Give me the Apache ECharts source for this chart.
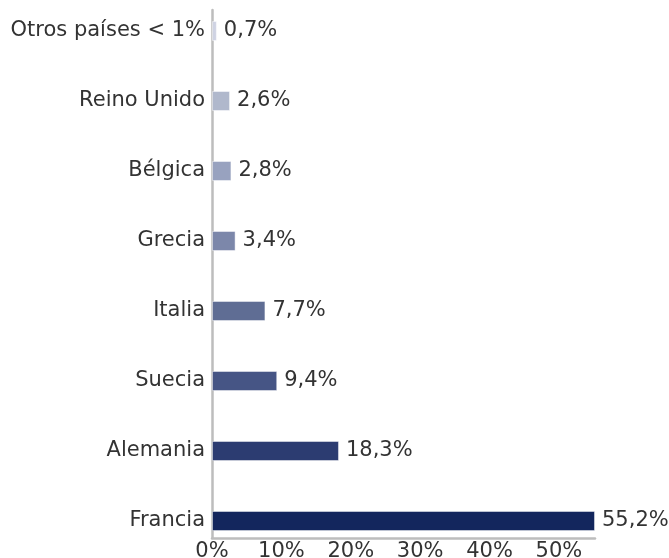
<!DOCTYPE html>
<html>
<head>
<meta charset="utf-8">
<script src="https://cdn.jsdelivr.net/npm/echarts@6/dist/echarts.min.js"></script>
<style>
  html, body { margin: 0; padding: 0; background: #fff; }
  #chart { width: 669px; height: 558px; }
</style>
</head>
<body>
<div id="chart"></div>
<script>
// categories top to bottom
const paises = ['Otros países < 1%', 'Reino Unido', 'Bélgica', 'Grecia', 'Italia', 'Suecia', 'Alemania', 'Francia']
const porcentajes = [0.7, 2.6, 2.8, 3.4, 7.7, 9.4, 18.3, 55.2]
const colores = ['#cfd3e3', '#b0b8cc', '#98a2bf', '#7c87aa', '#5f6d94', '#465585', '#2c3c71', '#13265d']
const ejeX = [0, 10, 20, 30, 40, 50]

const maxX = 55.2
const fuente = 'DejaVu Sans'
const gris = '#bdbdbd'

const chart = echarts.init(document.getElementById('chart'))
chart.setOption({
  animation: false,
  textStyle: { fontFamily: fuente },
  grid: [
    // bars (category points from first to last bar centre)
    { left: 212, right: 74, top: 31, bottom: 37, outerBoundsMode: 'none' },
    // axis lines, labels are allowed to run off the bottom edge
    { left: 212, right: 74, top: 10, bottom: 20, outerBoundsMode: 'none' }
  ],
  xAxis: [
    { gridIndex: 0, type: 'value', min: 0, max: maxX, show: false },
    {
      gridIndex: 1,
      type: 'value',
      min: ejeX[0],
      max: maxX,
      interval: 10,
      axisLine: { show: true, lineStyle: { color: gris, width: 2.5 } },
      axisTick: { show: false },
      splitLine: { show: false },
      axisLabel: {
        margin: 3,
        fontSize: 21,
        color: '#333',
        showMaxLabel: false,
        formatter: v => ejeX.indexOf(v) >= 0 ? v + '%' : ''
      }
    }
  ],
  yAxis: [
    {
      gridIndex: 0,
      type: 'category',
      inverse: true,
      boundaryGap: false,
      data: paises,
      axisLine: { show: false },
      axisTick: { show: false },
      axisLabel: { margin: 7, fontSize: 21, color: '#333' }
    },
    {
      gridIndex: 1,
      type: 'value',
      min: 0,
      max: 1,
      axisLine: { show: true, lineStyle: { color: gris, width: 2.5 } },
      axisTick: { show: false },
      axisLabel: { show: false },
      splitLine: { show: false }
    }
  ],
  series: [
    {
      type: 'bar',
      xAxisIndex: 0,
      yAxisIndex: 0,
      barWidth: 20,
      data: porcentajes.map((v, i) => ({
        value: v,
        itemStyle: { color: colores[i] }
      })),
      itemStyle: { borderColor: 'rgba(255,255,255,0.45)', borderWidth: 1 },
      label: {
        show: true,
        position: 'right',
        distance: 7,
        fontSize: 21,
        color: '#333',
        formatter: p => String(p.value).replace('.', ',') + '%'
      }
    }
  ]
})
</script>
</body>
</html>
